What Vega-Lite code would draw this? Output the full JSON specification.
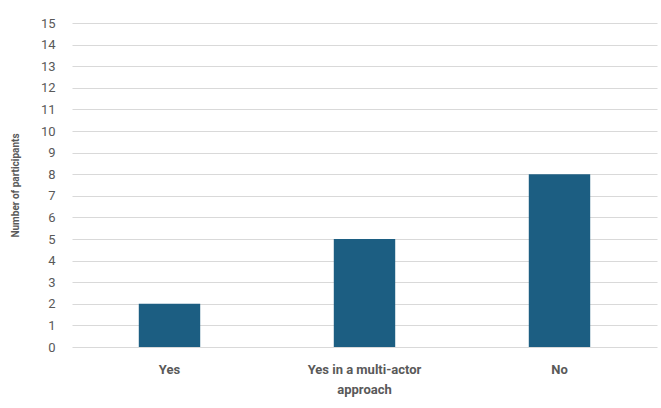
{
  "$schema": "https://vega.github.io/schema/vega-lite/v6.json",
  "width": 585,
  "height": 324,
  "autosize": "none",
  "padding": {"left": 72, "top": 23, "right": 4, "bottom": 61},
  "background": "white",
  "config": {
    "view": {"stroke": null},
    "font": "Roboto"
  },
  "data": {
    "values": [
      {"answer": "Yes", "participants": 2},
      {"answer": "Yes in a multi-actor approach", "participants": 5},
      {"answer": "No", "participants": 8}
    ]
  },
  "mark": {"type": "bar", "color": "#1c5e82"},
  "encoding": {
    "x": {
      "field": "answer",
      "type": "nominal",
      "sort": null,
      "scale": {"paddingInner": 0.685, "paddingOuter": 0.3425},
      "axis": {
        "title": null,
        "labelAngle": 0,
        "domain": false,
        "ticks": false,
        "labelPadding": 16,
        "labelFont": "Roboto",
        "labelFontSize": 13,
        "labelFontWeight": "bold",
        "labelColor": "#595959",
        "labelLineHeight": 20,
        "labelExpr": "datum.label == 'Yes in a multi-actor approach' ? ['Yes in a multi-actor', 'approach'] : datum.label"
      }
    },
    "y": {
      "field": "participants",
      "type": "quantitative",
      "scale": {"domain": [0, 15], "nice": false},
      "axis": {
        "title": "Number of participants",
        "titleFontSize": 10,
        "titleFontWeight": "bold",
        "titleColor": "#595959",
        "titleX": -57,
        "titleY": 162,
        "titleAnchor": "middle",
        "titleAlign": "center",
        "titleBaseline": "middle",
        "values": [0, 1, 2, 3, 4, 5, 6, 7, 8, 9, 10, 11, 12, 13, 14, 15],
        "domain": false,
        "ticks": false,
        "labelPadding": 17,
        "labelFontSize": 13,
        "labelColor": "#595959",
        "gridColor": "#d9d9d9",
        "gridWidth": 1
      }
    }
  }
}
